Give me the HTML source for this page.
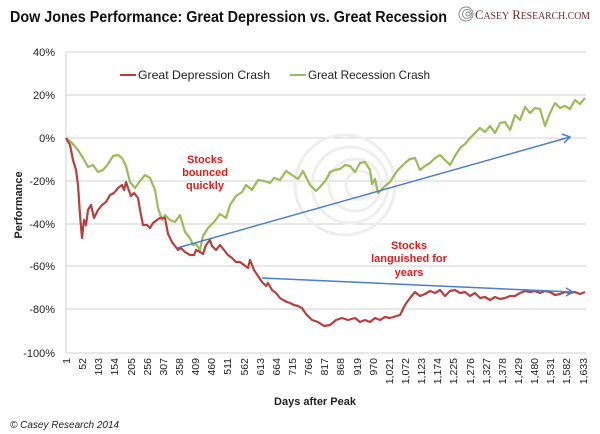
<!DOCTYPE html>
<html><head><meta charset="utf-8"><style>
body{margin:0;background:#fff;}
svg{display:block;font-family:"Liberation Sans",sans-serif;}
</style></head><body>
<svg width="600" height="434" viewBox="0 0 600 434" xmlns="http://www.w3.org/2000/svg">
<rect width="600" height="434" fill="#fff"/>
<text x="10" y="22" font-size="16" font-weight="bold" fill="#111" textLength="437" lengthAdjust="spacingAndGlyphs">Dow Jones Performance: Great Depression vs. Great Recession</text>
<g fill="none" stroke="#888" stroke-width="1"><circle cx="466" cy="14" r="7"/><circle cx="467" cy="14" r="4.5"/><circle cx="468" cy="14" r="2"/></g>
<text x="475" y="19" font-family="Liberation Serif,serif" font-size="13" fill="#6b2a2a" textLength="115" lengthAdjust="spacingAndGlyphs">C<tspan font-size="10">ASEY</tspan> R<tspan font-size="10">ESEARCH.COM</tspan></text>
<!-- grid -->
<g stroke="#d0d0d0" stroke-width="1">
<line x1="66" x2="586" y1="52" y2="52"/><line x1="66" x2="586" y1="95" y2="95"/><line x1="66" x2="586" y1="138" y2="138"/><line x1="66" x2="586" y1="181" y2="181"/><line x1="66" x2="586" y1="224" y2="224"/><line x1="66" x2="586" y1="266" y2="266"/><line x1="66" x2="586" y1="309" y2="309"/><line x1="66" x2="586" y1="353" y2="353"/>
<line x1="66" x2="66" y1="52" y2="353"/>
</g>
<g font-size="11" fill="#222" text-anchor="end">
<text x="55" y="56">40%</text><text x="55" y="99">20%</text><text x="55" y="142">0%</text><text x="55" y="185">-20%</text><text x="55" y="228">-40%</text><text x="55" y="270">-60%</text><text x="55" y="313">-80%</text><text x="55" y="357">-100%</text>
</g>
<text transform="translate(22,205) rotate(-90)" font-size="11" font-weight="bold" text-anchor="middle" fill="#222">Performance</text>
<!-- watermark -->
<g fill="none" stroke="#eeeeee" stroke-width="3">
<circle cx="345" cy="185" r="50"/><circle cx="350" cy="185" r="38"/><circle cx="355" cy="185" r="26"/><circle cx="360" cy="185" r="14"/>
</g>
<!-- legend -->
<line x1="120" x2="136" y1="75" y2="75" stroke="#b5403c" stroke-width="2"/>
<text x="138" y="79" font-size="12" fill="#222" textLength="132" lengthAdjust="spacingAndGlyphs">Great Depression Crash</text>
<line x1="290" x2="306" y1="75" y2="75" stroke="#9bbb59" stroke-width="2"/>
<text x="308" y="79" font-size="12" fill="#222" textLength="122" lengthAdjust="spacingAndGlyphs">Great Recession Crash</text>
<!-- series -->
<polyline fill="none" stroke="#9bbb59" stroke-width="2.2" stroke-linejoin="round" points="66,138 72,143 78,150 83,158 88,167 93,165 98,172 103,170 108,164 113,156 118,155 122,158 126,166 130,182 135,188 140,181 145,175 150,178 155,190 158,208 162,220 165,215 170,220 175,222 180,215 185,232 190,238 193,245 196,244 200,250 203,236 208,228 214,222 220,214 226,218 230,205 236,196 242,192 246,185 252,190 258,180 264,181 270,183 274,178 280,180 286,171 292,175 298,179 303,171 310,185 316,191 320,187 326,180 330,172 335,170 340,169 345,165 350,166 355,172 360,163 365,162 370,170 372,184 375,179 378,193 382,189 385,186 390,182 393,177 398,170 405,163 410,159 415,158 420,170 425,166 430,163 435,158 440,155 445,160 450,165 455,156 460,148 465,144 470,138 475,133 480,128 485,132 490,126 495,133 500,123 505,122 510,130 515,115 520,120 525,107 530,113 535,108 540,109 545,126 550,113 555,103 560,108 565,106 570,109 575,100 580,104 585,98"/>
<polyline fill="none" stroke="#b5403c" stroke-width="2.2" stroke-linejoin="round" points="66,138 70,145 73,160 76,170 78,185 80,215 82,238 84,220 86,225 88,210 91,205 94,218 98,210 102,205 106,202 110,195 114,193 118,188 122,185 124,190 126,182 128,188 131,196 134,193 138,198 140,210 143,225 147,225 150,228 153,223 157,220 160,218 165,218 168,234 172,242 175,246 178,250 181,248 185,252 190,255 194,255 196,250 200,252 203,254 206,245 210,240 212,246 216,250 220,245 224,250 228,255 232,258 236,262 240,262 244,265 248,268 250,260 254,270 258,276 262,282 266,286 268,283 272,290 276,293 280,298 283,300 287,302 290,303 294,305 298,306 302,308 306,314 312,320 318,322 324,326 330,325 336,320 342,318 348,320 355,318 360,322 365,320 370,322 375,318 380,320 385,317 390,318 400,315 405,305 410,298 415,292 420,296 425,294 430,291 435,293 440,290 445,296 450,291 455,290 460,293 465,292 470,296 475,293 480,298 485,297 490,300 495,297 500,299 505,298 510,296 515,296 520,293 525,291 530,292 535,291 540,293 545,291 550,292 555,295 560,294 565,292 570,293 575,292 580,294 585,292"/>
<!-- arrows -->
<g stroke="#4a7ec9" stroke-width="1.5" fill="none">
<line x1="177" y1="248" x2="570" y2="137"/><polyline points="562,134 570,137 564,143"/>
<line x1="262" y1="278" x2="573" y2="292"/><polyline points="566,288 573,292 566,296"/>
</g>
<g font-size="11" font-weight="bold" fill="#e31b1b" text-anchor="middle">
<text x="205" y="163">Stocks</text><text x="205" y="176">bounced</text><text x="205" y="189">quickly</text>
<text x="409" y="249">Stocks</text><text x="409" y="262">languished for</text><text x="409" y="276">years</text>
</g>
<!-- x labels -->
<g font-size="10.5" fill="#222" text-anchor="end">
<text transform="translate(70,358) rotate(-90)">1</text>
<text transform="translate(86,358) rotate(-90)">52</text>
<text transform="translate(102,358) rotate(-90)">103</text>
<text transform="translate(118,358) rotate(-90)">154</text>
<text transform="translate(135,358) rotate(-90)">205</text>
<text transform="translate(151,358) rotate(-90)">256</text>
<text transform="translate(167,358) rotate(-90)">307</text>
<text transform="translate(183,358) rotate(-90)">358</text>
<text transform="translate(199,358) rotate(-90)">409</text>
<text transform="translate(215,358) rotate(-90)">460</text>
<text transform="translate(231,358) rotate(-90)">511</text>
<text transform="translate(248,358) rotate(-90)">562</text>
<text transform="translate(264,358) rotate(-90)">613</text>
<text transform="translate(280,358) rotate(-90)">664</text>
<text transform="translate(296,358) rotate(-90)">715</text>
<text transform="translate(312,358) rotate(-90)">766</text>
<text transform="translate(328,358) rotate(-90)">817</text>
<text transform="translate(344,358) rotate(-90)">868</text>
<text transform="translate(361,358) rotate(-90)">919</text>
<text transform="translate(377,358) rotate(-90)">970</text>
<text transform="translate(393,358) rotate(-90)">1,021</text>
<text transform="translate(409,358) rotate(-90)">1,072</text>
<text transform="translate(425,358) rotate(-90)">1,123</text>
<text transform="translate(441,358) rotate(-90)">1,174</text>
<text transform="translate(457,358) rotate(-90)">1,225</text>
<text transform="translate(474,358) rotate(-90)">1,276</text>
<text transform="translate(490,358) rotate(-90)">1,327</text>
<text transform="translate(506,358) rotate(-90)">1,378</text>
<text transform="translate(522,358) rotate(-90)">1,429</text>
<text transform="translate(538,358) rotate(-90)">1,480</text>
<text transform="translate(554,358) rotate(-90)">1,531</text>
<text transform="translate(570,358) rotate(-90)">1,582</text>
<text transform="translate(587,358) rotate(-90)">1,633</text>
</g>
<text x="315" y="405" font-size="11" font-weight="bold" fill="#222" text-anchor="middle">Days after Peak</text>
<text x="10" y="428" font-size="10" font-style="italic" fill="#222">© Casey Research 2014</text>
</svg>
</body></html>
